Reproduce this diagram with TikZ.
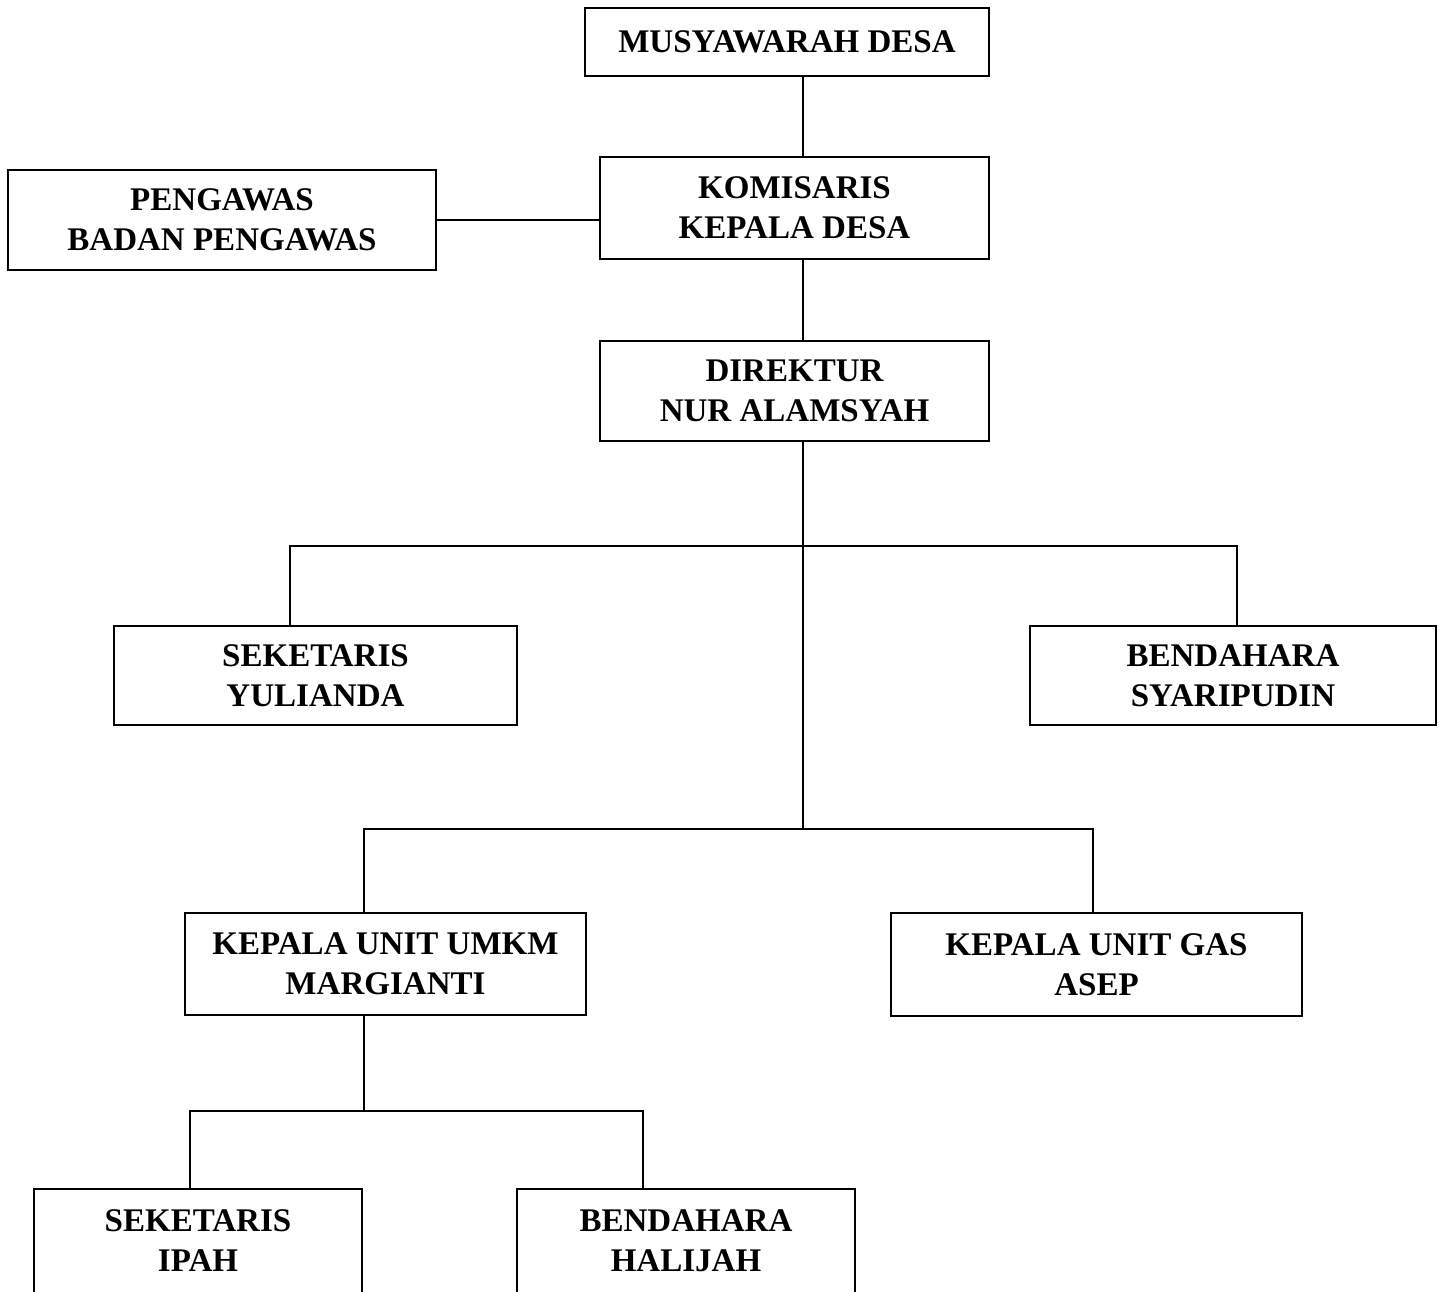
\documentclass[tikz,border=0pt]{standalone}
\usepackage{fontspec}
\setmainfont{Liberation Serif}
\usepackage{tikz}
\tikzset{orgbox/.style={draw,rectangle,line width=1.1pt,align=center,inner sep=0pt,
  font=\fontsize{18.8}{22.8}\selectfont\bfseries}}

\begin{document}
\begin{tikzpicture}[x=0.02cm,y=-0.02cm]
\clip (0,0) rectangle (1442,1291);
% boxes
\node[orgbox,minimum width=8.08cm,minimum height=1.36cm] (musy) at (787,42) {MUSYAWARAH DESA};
\node[orgbox,minimum width=7.78cm,minimum height=2.04cm] (komis) at (794.5,208) {KOMISARIS\\KEPALA DESA};
\node[orgbox,minimum width=8.56cm,minimum height=2.00cm] (pengawas) at (222,220) {PENGAWAS\\BADAN PENGAWAS};
\node[orgbox,minimum width=7.78cm,minimum height=2.00cm] (direktur) at (794.5,391) {DIREKTUR\\NUR ALAMSYAH};
\node[orgbox,minimum width=8.06cm,minimum height=1.98cm] (sek1) at (315.5,675.5) {SEKETARIS\\YULIANDA};
\node[orgbox,minimum width=8.12cm,minimum height=1.98cm] (bend1) at (1233,675.5) {BENDAHARA\\SYARIPUDIN};
\node[orgbox,minimum width=8.02cm,minimum height=2.04cm] (umkm) at (385.5,964) {KEPALA UNIT UMKM\\MARGIANTI};
\node[orgbox,minimum width=8.22cm,minimum height=2.06cm] (gas) at (1096.5,964.5) {KEPALA UNIT GAS\\ASEP};
\node[orgbox,minimum width=6.56cm,minimum height=2.08cm] (sek2) at (198,1241) {SEKETARIS\\IPAH};
\node[orgbox,minimum width=6.76cm,minimum height=2.08cm] (bend2) at (686,1241) {BENDAHARA\\HALIJAH};
% junctions
\coordinate (j1) at (803,546);
\coordinate (j1l) at (290,546);
\coordinate (j1r) at (1237,546);
\coordinate (j2) at (803,829);
\coordinate (j2l) at (364,829);
\coordinate (j2r) at (1093,829);
\coordinate (j3) at (364,1111);
\coordinate (j3l) at (190,1111);
\coordinate (j3r) at (643,1111);
% lines
\draw[line width=1.1pt] (musy.south -| j1) -- (komis.north -| j1);
\draw[line width=1.1pt] (komis.south -| j1) -- (direktur.north -| j1);
\draw[line width=1.1pt] (pengawas.east) -- (komis.west |- pengawas.east);
\draw[line width=1.1pt] (direktur.south -| j1) -- (j2);
\draw[line width=1.1pt] (sek1.north -| j1l) -- (j1l) -- (j1r) -- (bend1.north -| j1r);
\draw[line width=1.1pt] (umkm.north -| j2l) -- (j2l) -- (j2r) -- (gas.north -| j2r);
\draw[line width=1.1pt] (umkm.south -| j3) -- (j3);
\draw[line width=1.1pt] (sek2.north -| j3l) -- (j3l) -- (j3r) -- (bend2.north -| j3r);
\end{tikzpicture}
\end{document}
